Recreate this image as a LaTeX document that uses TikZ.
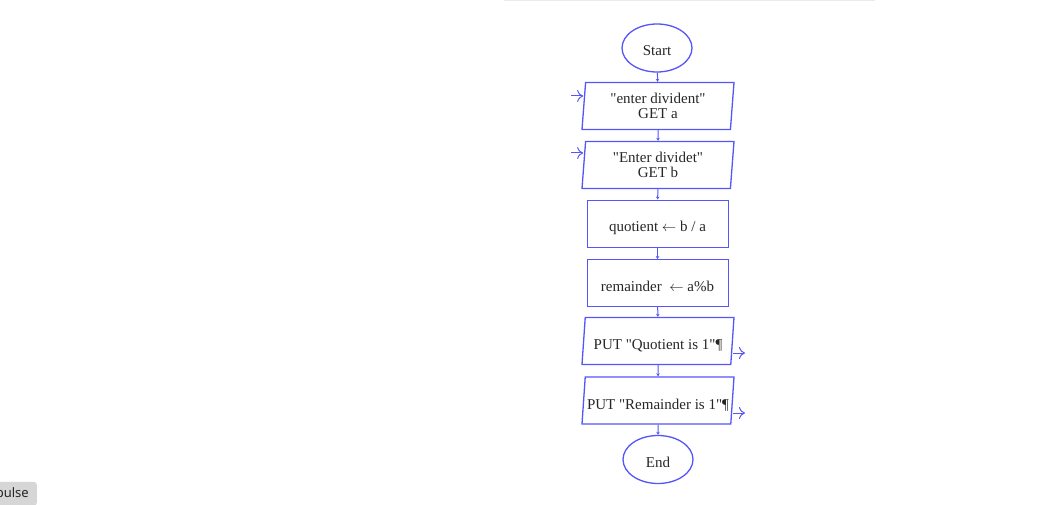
\documentclass[tikz,border=0pt]{standalone}
\usepackage{fontspec}
\setmainfont{Liberation Serif}[Ligatures=TeXReset]
\newfontfamily\uifont{Noto Sans}
\usetikzlibrary{shapes.geometric,arrows.meta}
\definecolor{flowblue}{RGB}{85,85,250}
\definecolor{btngray}{RGB}{214,214,214}

\begin{document}
\begin{tikzpicture}[x=1pt,y=-1pt]
	\useasboundingbox (0,0) rectangle (1037,505);
	\tikzstyle{every node}=[font=\fontsize{15}{15}\selectfont, text=black!85]
	\tikzstyle{terminal}=[ellipse, draw=flowblue, line width=1.3pt, minimum width=70pt, minimum height=48pt, text height=18pt, text depth=3pt]
	\tikzstyle{io}=[trapezium, trapezium left angle=82, trapezium right angle=98, trapezium stretches body, draw=flowblue, line width=1.3pt, minimum width=152pt, minimum height=47pt, align=center, inner sep=0pt]
	\tikzstyle{process}=[rectangle, draw=flowblue, line width=0.9pt, minimum width=141pt, minimum height=47pt, text height=20pt, text depth=3pt]
	\tikzstyle{lowtext}=[text height=20pt, text depth=3pt]
	\tikzstyle{flow}=[draw=flowblue, line width=1pt, -{Stealth[length=3pt,width=3.5pt]}]
	\tikzstyle{port}=[draw=flowblue, line width=1pt, -{To[length=6pt,width=12pt]}]
	\draw[black!8, line width=1pt] (504,0.5) -- (875,0.5);
	\node[terminal] (start) at (657,48) {Start};
	\node[io] (geta) at (658,106) {"enter divident"\\GET a};
	\node[io] (getb) at (658,165) {"Enter dividet"\\GET b};
	\node[process] (quot) at (657.5,223.5) {quotient $\leftarrow$ b / a};
	\node[process] (rem) at (657.5,283) {remainder~ $\leftarrow$ a\%b};
	\node[io, lowtext] (putq) at (658,341) {PUT "Quotient is 1"¶};
	\node[io, lowtext] (putr) at (658,400.5) {PUT "Remainder is 1"¶};
	\node[terminal] (stop) at (658,459.5) {End};
	\draw[flow] (start) -- (geta);
	\draw[flow] (geta) -- (getb);
	\draw[flow] (getb) -- (quot);
	\draw[flow] (quot) -- (rem);
	\draw[flow] (rem) -- (putq);
	\draw[flow] (putq) -- (putr);
	\draw[flow] (putr) -- (stop);
	\coordinate (ina) at (571,96);
	\coordinate (inb) at (571,153);
	\coordinate (outq) at (745,353);
	\coordinate (outr) at (745,413);
	\draw[port] (ina) -- (ina -| geta.west);
	\draw[port] (inb) -- (inb -| getb.west);
	\draw[port] (outq -| putq.east) -- (outq);
	\draw[port] (outr -| putr.east) -- (outr);
	\node[fill=btngray, rounded corners=3pt, anchor=south east, minimum height=24pt, inner xsep=8pt, font=\uifont\fontsize{13}{15}\selectfont, text=black!85] (pulse) at (37,506) {pulse};
\end{tikzpicture}
\end{document}
